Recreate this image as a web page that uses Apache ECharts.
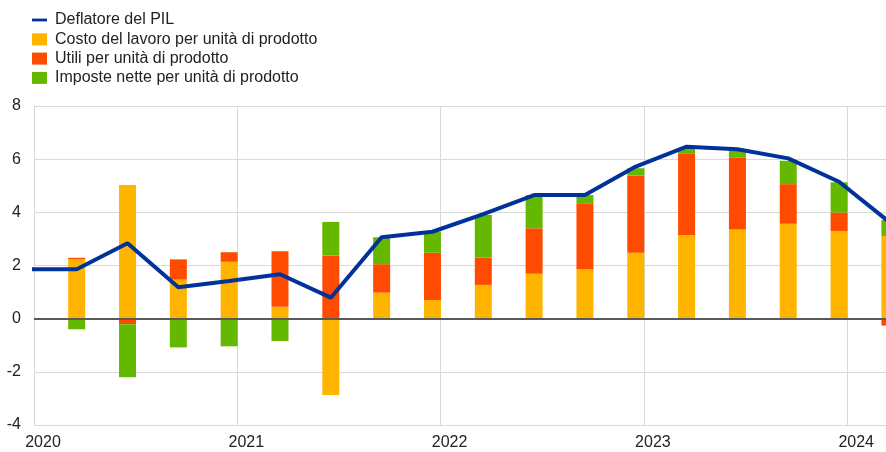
<!doctype html>
<html>
<head>
<meta charset="UTF-8">
<title>Deflatore del PIL</title>
<script src="https://cdn.jsdelivr.net/npm/echarts@6/dist/echarts.min.js"></script>
<style>
  html, body { margin: 0; padding: 0; background: #fff; }
  #main { width: 886px; height: 452px; }
</style>
</head>
<body>
<div id="main"></div>
<script>
// trimestri (barre) e punti della linea (parte dal 2019Q4, fuori dal grafico)
var quarters = ['2020Q1','2020Q2','2020Q3','2020Q4','2021Q1','2021Q2','2021Q3','2021Q4',
                '2022Q1','2022Q2','2022Q3','2022Q4','2023Q1','2023Q2','2023Q3','2023Q4','2024Q1'];
var lineQuarters = ['2019Q4'].concat(quarters);

var deflatore = [1.86, 1.86, 2.84, 1.18, 1.42, 1.67, 0.79, 3.06, 3.27, 3.93, 4.65, 4.65, 5.72, 6.47, 6.37, 6.03, 5.15, 3.62];
var costoLavoro = [2.23, 5.03, 1.47, 2.14, 0.45, -2.87, 0.98, 0.70, 1.27, 1.69, 1.86, 2.48, 3.15, 3.35, 3.57, 3.30, 3.11];
var utili = [0.06, -0.21, 0.76, 0.36, 2.09, 2.38, 1.07, 1.78, 1.03, 1.71, 2.46, 2.90, 3.05, 2.71, 1.49, 0.69, -0.26];
var imposte = [-0.40, -1.99, -1.08, -1.04, -0.84, 1.26, 1.01, 0.79, 1.60, 1.25, 0.33, 0.28, 0.21, 0.26, 0.88, 1.14, 0.60];

var yTicks = [-4, -2, 0, 2, 4, 6, 8];

// layout: anno = 203.3px, trimestre al punto 0.21 dell'anno
var W = 886, LEFT = 34, YEAR = 203.3, QOFF = 0.21;
var XMAX = 2020 + (W + 5 - LEFT) / YEAR;
var band = YEAR / 4;
var barsLeft = LEFT + YEAR * QOFF - band / 2;
var barsRight = W - (barsLeft + band * quarters.length);

function qpos(q) {
  var y = parseInt(q.substring(0, 4), 10);
  var n = parseInt(q.substring(5), 10);
  return y + (n - 1) * 0.25 + QOFF;
}
function pairs(qs, vals) {
  return qs.map(function (q, i) { return [qpos(q), vals[i]]; });
}

var FONT = "'Liberation Sans', Arial, sans-serif";
var chart = echarts.init(document.getElementById('main'), null, { renderer: 'canvas' });

function barSerie(name, color, vals) {
  return {
    name: name,
    type: 'bar',
    stack: 'tot',
    barWidth: 17,
    xAxisIndex: 1,
    yAxisIndex: 1,
    itemStyle: { color: color },
    data: vals
  };
}

var option = {
  animation: false,
  textStyle: { fontFamily: FONT },
  legend: {
    orient: 'vertical',
    left: 32,
    top: 12,
    padding: 0,
    itemWidth: 15,
    itemHeight: 12,
    itemGap: 3.3,
    selectedMode: false,
    textStyle: { fontSize: 16, color: '#222', fontFamily: FONT, padding: [0, 0, 0, 3] },
    data: [
      { name: 'Deflatore del PIL', icon: 'path://M0,0 L16,0 L16,3 L0,3 Z' },
      { name: 'Costo del lavoro per unità di prodotto', icon: 'rect' },
      { name: 'Utili per unità di prodotto', icon: 'rect' },
      { name: 'Imposte nette per unità di prodotto', icon: 'rect' }
    ]
  },
  grid: [
    { left: LEFT, right: -5, top: 106, bottom: 27, outerBoundsMode: 'none' },
    { left: barsLeft, right: barsRight, top: 106, bottom: 27, outerBoundsMode: 'none' }
  ],
  xAxis: [{
    type: 'value',
    gridIndex: 0,
    min: 2020,
    max: XMAX,
    interval: 1,
    axisLine: { show: false },
    axisTick: { show: false },
    splitLine: { show: true, showMaxLine: false, lineStyle: { color: '#d9d9d9', width: 1 } },
    axisLabel: {
      fontSize: 16,
      color: '#222',
      margin: 10,
      padding: [0, 0, 0, 18],
      formatter: function (v) { return Number.isInteger(v) ? String(v) : ''; }
    }
  }, {
    type: 'category',
    gridIndex: 1,
    data: quarters,
    show: false
  }],
  yAxis: [{
    type: 'value',
    gridIndex: 0,
    min: yTicks[0],
    max: yTicks[yTicks.length - 1],
    interval: 2,
    axisLine: { show: true, lineStyle: { color: '#d9d9d9', width: 1 } },
    axisTick: { show: false },
    splitLine: { show: true, lineStyle: { color: '#d9d9d9', width: 1 } },
    axisLabel: { fontSize: 16, color: '#222', margin: 13 }
  }, {
    type: 'value',
    gridIndex: 1,
    min: yTicks[0],
    max: yTicks[yTicks.length - 1],
    interval: 2,
    show: false,
    splitLine: { show: false }
  }],
  series: [
    barSerie('Costo del lavoro per unità di prodotto', '#FFB400', costoLavoro),
    barSerie('Utili per unità di prodotto', '#FF4B00', utili),
    barSerie('Imposte nette per unità di prodotto', '#65B800', imposte),
    {
      name: 'Deflatore del PIL',
      type: 'line',
      xAxisIndex: 0,
      yAxisIndex: 0,
      symbol: 'none',
      lineStyle: { color: '#003299', width: 4 },
      itemStyle: { color: '#003299' },
      data: pairs(lineQuarters, deflatore),
      markLine: {
        silent: true,
        symbol: 'none',
        label: { show: false },
        lineStyle: { color: '#595959', width: 2, type: 'solid' },
        data: [{ yAxis: 0 }]
      },
      z: 4
    }
  ]
};
chart.setOption(option);
</script>
</body>
</html>
